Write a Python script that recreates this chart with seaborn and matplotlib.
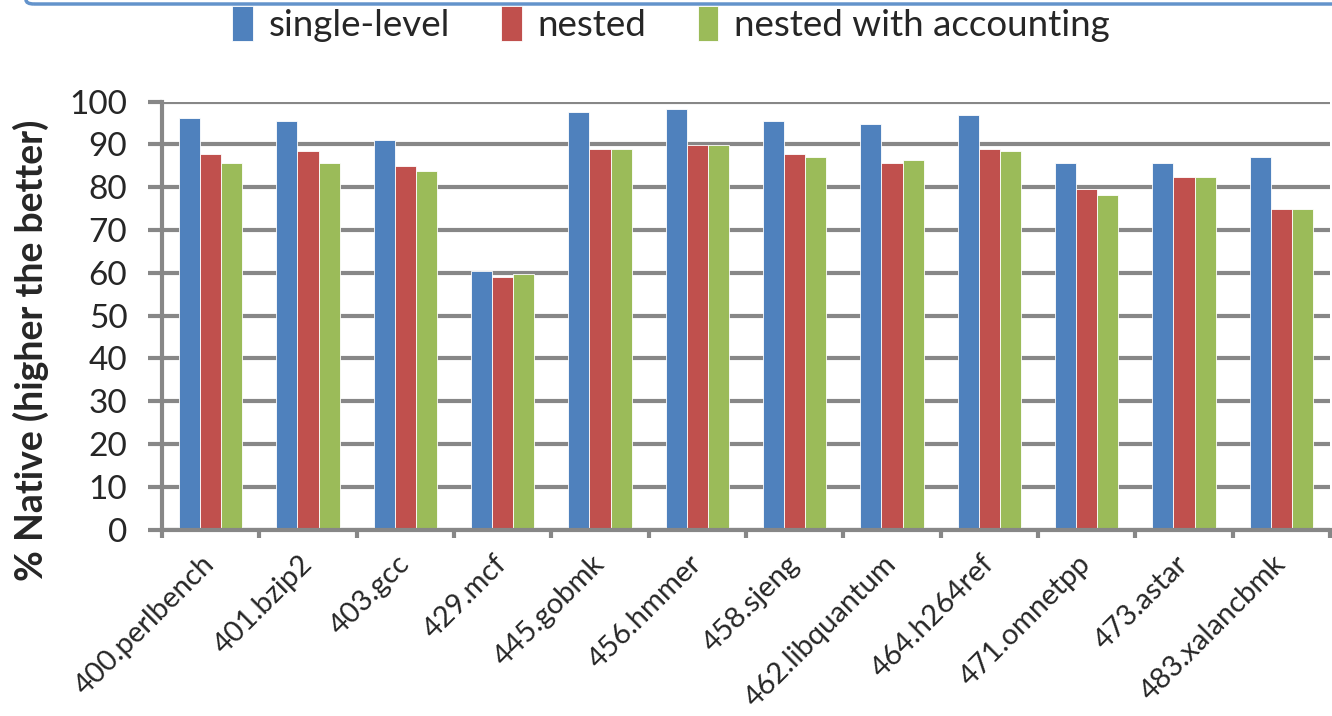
import numpy as np
import pandas as pd
import matplotlib
matplotlib.use("Agg")
import matplotlib.pyplot as plt
from matplotlib.patches import FancyBboxPatch
import seaborn as sns

categories = ["400.perlbench", "401.bzip2", "403.gcc", "429.mcf", "445.gobmk",
              "456.hmmer", "458.sjeng", "462.libquantum", "464.h264ref",
              "471.omnetpp", "473.astar", "483.xalancbmk"]
single_level = [96.1, 95.4, 91.1, 60.5, 97.5, 98.2, 95.4, 94.7, 96.9, 85.7, 85.7, 87.0]
nested = [87.7, 88.4, 85.0, 59.0, 89.0, 89.8, 87.7, 85.7, 89.0, 79.7, 82.4, 75.0]
nested_acct = [85.7, 85.7, 83.7, 59.8, 89.0, 89.8, 87.0, 86.4, 88.4, 78.3, 82.4, 75.0]
series_names = ["single-level", "nested", "nested with accounting"]
colors = ["#4F81BD", "#C0504D", "#9BBB59"]
yticks = [0, 10, 20, 30, 40, 50, 60, 70, 80, 90, 100]
ylabel = "% Native (higher the better)"

df = pd.DataFrame({
    "benchmark": categories * 3,
    "value": single_level + nested + nested_acct,
    "series": [series_names[0]] * 12 + [series_names[1]] * 12 + [series_names[2]] * 12,
})

sns.set_style("white")
plt.rcParams["font.family"] = ["Lato", "DejaVu Sans"]

W, H = 1332, 716
fig = plt.figure(figsize=(W / 100, H / 100), dpi=100)
ax = fig.add_axes([162 / W, 1 - 529.5 / H, (1330 - 162) / W, (529.5 - 101.7) / H])

grid_c = "#878787"
sns.barplot(data=df, x="benchmark", y="value", hue="series", order=categories,
            hue_order=series_names, palette=colors, width=0.65, gap=0,
            saturation=1, edgecolor="white", linewidth=0.6, ax=ax, legend=True)

ax.set_ylim(0, 100)
ax.set_xlim(-0.5, len(categories) - 0.5)
ax.set_axisbelow(True)
ax.set_yticks(yticks)
ax.set_yticklabels([str(v) for v in yticks], fontsize=24)
ax.yaxis.grid(True, color=grid_c, linewidth=3)
ax.xaxis.grid(False)
ax.tick_params(axis="y", length=10, width=3, color=grid_c, pad=15, left=True)

ax.set_xticks(np.arange(len(categories) + 1) - 0.5)
ax.set_xticklabels([])
ax.tick_params(axis="x", which="major", length=6, width=3, color=grid_c, bottom=True, direction="out")
ax.set_xticks(np.arange(len(categories)), minor=True)
ax.set_xticklabels(categories, minor=True, rotation=45, ha="right", va="center",
                   rotation_mode="anchor", fontsize=21)
ax.tick_params(axis="x", which="minor", length=0, pad=22)

for s in ["top", "right"]:
    ax.spines[s].set_visible(False)
for s in ["left", "bottom"]:
    ax.spines[s].set_color(grid_c)
    ax.spines[s].set_linewidth(3)
ax.set_xlabel("")
ax.set_ylabel("")
fig.text(31 / W, 1 - 350 / H, ylabel, rotation=90, ha="center", va="center",
         fontsize=27, fontweight="bold")

handles, labels = ax.get_legend_handles_labels()
ax.get_legend().remove()
fig.legend(handles, labels, loc="center", bbox_to_anchor=(671 / W, 1 - 24 / H),
           ncol=3, frameon=False, fontsize=26.5, handlelength=0.56, handleheight=1.1,
           handletextpad=0.43, columnspacing=1.39, borderpad=0)

box = FancyBboxPatch((26 / W, 1 - 4 / H), 1.2, 0.2, boxstyle="round,pad=0,rounding_size=0.006",
                     transform=fig.transFigure, facecolor="none", edgecolor="#6393CB",
                     linewidth=2.5, clip_on=False)
fig.patches.append(box)

fig.savefig("out.png", dpi=100)
